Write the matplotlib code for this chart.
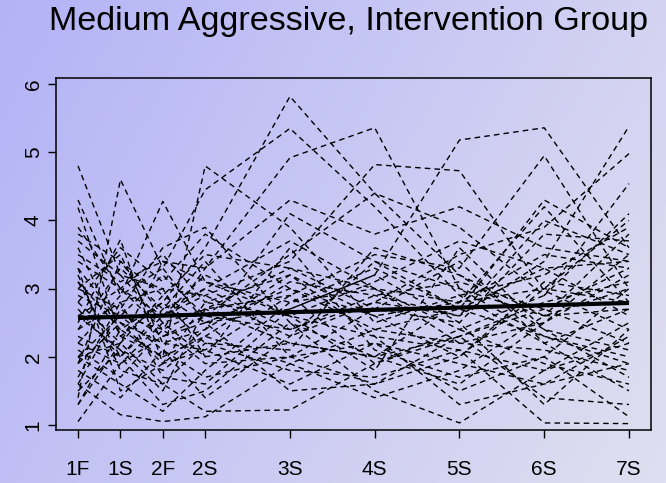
import numpy as np
import matplotlib
matplotlib.use("Agg")
import matplotlib.pyplot as plt
from matplotlib.colors import LinearSegmentedColormap

# Visit labels and their spacing on the time axis
visits = ["1F", "1S", "2F", "2S", "3S", "4S", "5S", "6S", "7S"]
visit_pos = [0, 1, 2, 3, 5, 7, 9, 11, 13]

# Aggression score per child at each visit (one list per child)
child_scores = [
    [3.1, 2.4, 2.8, 3.6, 5.82, 4.4, 3.2, 2.6, 3.0],
    [2.2, 2.9, 3.3, 4.45, 5.35, 4.2, 2.9, 2.2, 2.7],
    [2.0, 2.6, 2.4, 3.3, 4.92, 5.36, 3.0, 2.3, 1.9],
    [3.4, 3.0, 2.6, 2.9, 3.4, 4.82, 4.73, 2.97, 2.4],
    [2.8, 2.2, 2.9, 2.5, 2.7, 3.2, 5.18, 5.36, 3.6],
    [1.9, 2.5, 2.2, 2.1, 2.9, 3.5, 3.3, 4.95, 3.0],
    [2.6, 2.1, 1.8, 2.3, 3.1, 2.9, 2.6, 3.4, 5.38],
    [3.0, 2.7, 2.3, 2.6, 2.4, 2.8, 3.5, 3.9, 4.98],
    [2.4, 3.3, 2.7, 3.0, 3.7, 3.0, 2.4, 2.9, 4.54],
    [4.8, 3.2, 2.5, 2.7, 2.2, 2.0, 2.3, 2.7, 3.3],
    [1.4, 4.6, 3.3, 2.5, 3.0, 2.6, 2.8, 3.0, 2.8],
    [2.5, 3.72, 1.9, 2.8, 2.6, 2.3, 2.1, 1.8, 2.2],
    [4.3, 2.9, 4.28, 3.1, 2.8, 3.3, 2.7, 4.3, 3.6],
    [4.19, 2.3, 2.0, 4.8, 3.9, 2.5, 2.9, 3.2, 3.9],
    [1.05, 1.9, 2.5, 2.0, 2.2, 2.0, 1.6, 2.5, 3.2],
    [1.6, 1.15, 1.05, 1.12, 1.9, 2.4, 2.7, 2.3, 2.0],
    [1.3, 2.2, 1.6, 1.2, 1.22, 1.9, 2.3, 1.4, 1.3],
    [2.7, 2.0, 1.3, 1.5, 2.5, 1.5, 1.03, 1.8, 2.5],
    [3.2, 1.8, 1.6, 2.2, 1.8, 1.7, 2.1, 1.03, 1.02],
    [1.8, 1.4, 2.1, 1.7, 2.0, 2.2, 1.5, 2.0, 1.12],
    [3.5, 3.1, 3.4, 3.3, 4.3, 3.8, 4.2, 3.6, 3.4],
    [2.9, 2.6, 3.2, 2.6, 3.5, 4.4, 3.9, 2.9, 4.1],
    [3.8, 3.4, 2.9, 3.5, 3.3, 2.7, 2.5, 3.8, 3.7],
    [2.3, 2.0, 2.6, 3.2, 2.6, 3.1, 3.7, 3.3, 2.6],
    [3.0, 3.5, 2.2, 2.4, 4.1, 3.4, 3.0, 2.6, 3.8],
    [1.7, 2.8, 3.0, 2.9, 2.3, 2.8, 2.6, 4.0, 3.5],
    [2.1, 1.7, 2.4, 1.9, 2.0, 1.6, 2.3, 2.8, 3.1],
    [3.3, 2.5, 1.9, 2.1, 1.6, 2.2, 1.9, 1.6, 2.3],
    [2.6, 3.0, 3.5, 2.8, 3.2, 2.6, 2.0, 3.1, 2.9],
    [1.5, 2.1, 1.5, 2.7, 2.9, 1.9, 2.4, 1.9, 1.6],
    [3.6, 2.3, 2.8, 2.2, 2.1, 3.6, 3.2, 2.4, 2.1],
    [2.0, 1.6, 1.2, 1.8, 2.8, 3.0, 2.8, 3.5, 3.3],
    [2.8, 3.6, 3.1, 3.8, 3.0, 2.4, 2.2, 2.1, 1.8],
    [1.3, 2.4, 2.0, 2.3, 1.9, 1.4, 1.8, 2.6, 2.7],
    [3.1, 2.0, 2.7, 3.4, 2.0, 2.7, 3.4, 2.2, 1.5],
    [2.4, 2.8, 1.7, 1.6, 2.7, 3.2, 2.5, 1.3, 2.4],
    [3.7, 3.2, 3.0, 2.0, 3.6, 2.1, 1.7, 2.0, 3.0],
    [2.2, 1.9, 2.3, 2.5, 1.5, 1.6, 2.0, 3.0, 4.0],
    [1.9, 3.4, 2.6, 3.0, 2.4, 2.9, 3.1, 2.7, 2.2],
    [3.3, 1.5, 1.9, 2.4, 3.2, 2.3, 1.3, 1.6, 1.9],
    [2.6, 2.6, 2.1, 1.4, 2.3, 3.4, 2.7, 3.3, 3.4],
    [1.6, 2.7, 3.6, 3.9, 2.5, 2.0, 2.8, 4.2, 2.8],
    [3.9, 3.0, 2.4, 2.7, 3.3, 3.0, 2.2, 2.5, 3.5],
    [2.0, 2.2, 3.4, 3.1, 2.6, 1.8, 3.6, 2.4, 1.7],
]

# Fitted group trend at first and last visit
trend_ends = [2.57, 2.79]

plt.rcParams['font.family'] = ['Liberation Sans', 'DejaVu Sans']

fig = plt.figure(figsize=(6.66, 4.83), dpi=100)

# Soft lavender gradient behind everything
bg_ax = fig.add_axes([0, 0, 1, 1], zorder=-10)
gx, gy = np.meshgrid(np.linspace(0, 1, 300), np.linspace(0, 1, 220))
grad = 0.72 * gx + 0.28 * gy
cmap = LinearSegmentedColormap.from_list("lav", ["#b3b3f7", "#e0dff0"])
bg_ax.imshow(grad, cmap=cmap, aspect='auto', extent=[0, 1, 0, 1], origin='upper')
bg_ax.axis('off')

ax = fig.add_axes([0.0841, 0.1097, 0.8934, 0.7288])
ax.patch.set_alpha(0)

for row in child_scores:
    ax.plot(visit_pos, row, color='black', lw=1.0, ls=(0, (4.0, 3.0)))

ax.plot([visit_pos[0], visit_pos[-1]], trend_ends, color='black', lw=3.0,
        solid_capstyle='butt')

ax.set_xlim(-0.52, 13.52)
ax.set_ylim(0.926, 6.09)
ax.set_xticks(visit_pos)
ax.set_xticklabels(visits)
ax.set_yticks([1, 2, 3, 4, 5, 6])
ax.set_yticklabels(['1', '2', '3', '4', '5', '6'], rotation=90, va='center')

ax.tick_params(axis='both', direction='out', length=5.5, width=1.0,
               labelsize=15, colors='black')
ax.tick_params(axis='x', pad=16)
ax.tick_params(axis='y', pad=4)
for s in ax.spines.values():
    s.set_linewidth(1.1)

fig.text(0.523, 0.938, "Medium Aggressive, Intervention Group",
         ha='center', va='baseline', fontsize=24.6)

fig.savefig("out.png", dpi=100)
